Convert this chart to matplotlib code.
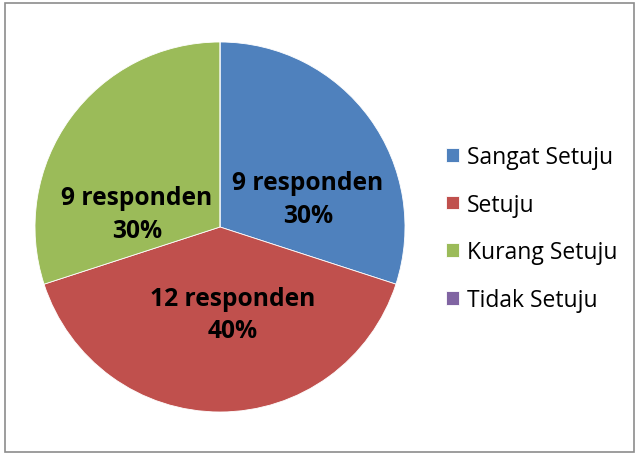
import matplotlib
matplotlib.use("Agg")
import matplotlib.pyplot as plt
from matplotlib.patches import Rectangle

plt.rcParams['font.family'] = ['Open Sans', 'DejaVu Sans']

categories = ["Sangat Setuju", "Setuju", "Kurang Setuju", "Tidak Setuju"]
values = [9, 12, 9, 0]
colors = ["#4F81BD", "#C0504D", "#9BBB59", "#8064A2"]
# label offsets (fraction of radius) chosen like Excel's best-fit placement
label_pos = [(0.476, 0.151), (0.070, -0.473), (-0.449, 0.070), None]

fig = plt.figure(figsize=(6.39, 4.56), dpi=100)
fig.patches.append(Rectangle((5/639, 3/456), 629/639, 449/456, transform=fig.transFigure,
                             fill=False, edgecolor="#8c8c8c", linewidth=1.2))

ax = fig.add_axes([35/639, 43/456, 370/639, 370/456])
total = sum(values)
wedges, _ = ax.pie(values, colors=colors, startangle=90, counterclock=False,
                   radius=1.0, wedgeprops=dict(linewidth=0.6, edgecolor="white"))
ax.set_xlim(-1, 1)
ax.set_ylim(-1, 1)
ax.set_aspect("equal")

for v, pos in zip(values, label_pos):
    if pos is None or v == 0:
        continue
    ax.text(pos[0], pos[1], f"{v} responden\n{round(100*v/total)}%", ha="center", va="center",
            fontsize=17.7, fontweight="bold", color="black", linespacing=1.4)

leg = fig.legend(wedges, categories, loc="center left", bbox_to_anchor=(446/639, 0.497),
                 frameon=False, fontsize=16.5, labelspacing=1.03, handlelength=0.55,
                 handleheight=0.55, handletextpad=0.38, borderpad=0, borderaxespad=0)

fig.savefig("out.png", dpi=100)
